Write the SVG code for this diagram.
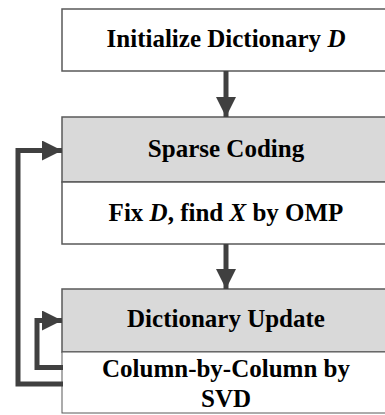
<svg xmlns="http://www.w3.org/2000/svg" width="385" height="415" viewBox="0 0 385 415">
<style>
.box{stroke:#595959;stroke-width:1.5}
.w{fill:#ffffff}
.g{fill:#d9d9d9}
.t{font-family:"Liberation Serif","Times New Roman",serif;font-weight:bold;font-size:25px;fill:#000;text-anchor:middle}
.i{font-style:italic}
.c{fill:none;stroke:#404040;stroke-width:5;stroke-linejoin:miter}
</style>
<defs>
<marker id="ah" viewBox="0 0 20 20" refX="20" refY="10" markerWidth="20" markerHeight="20" markerUnits="userSpaceOnUse" orient="auto">
<path d="M0,0 L20,10 L0,20 z" fill="#404040"/>
</marker>
</defs>
<rect width="385" height="415" fill="#ffffff"/>
<g id="init">
<rect class="box w" x="62" y="9" width="330" height="62"/>
<text class="t" x="226" y="47">Initialize Dictionary <tspan class="i">D</tspan></text>
</g>
<g id="sparse">
<rect class="box g" x="62" y="117" width="330" height="65"/>
<text class="t" x="226" y="157">Sparse Coding</text>
<rect class="box w" x="62" y="182" width="330" height="62"/>
<text class="t" x="226" y="221">Fix <tspan class="i">D</tspan>, find <tspan class="i">X</tspan> by OMP</text>
</g>
<g id="update">
<rect class="box g" x="62" y="289" width="330" height="63"/>
<text class="t" x="226" y="327">Dictionary Update</text>
<rect class="box w" x="62" y="352" width="330" height="61" style="stroke-width:1"/>
<text class="t" x="226" y="377">Column-by-Column by</text>
<text class="t" x="226" y="407">SVD</text>
</g>
<g id="connectors">
<path class="c" d="M226,71 V117" marker-end="url(#ah)"/>
<path class="c" d="M226,244 V289" marker-end="url(#ah)"/>
<path class="c" d="M63,384 H18 V150.5 H62" marker-end="url(#ah)"/>
<path class="c" d="M63,367.5 H37 V320.5 H62" marker-end="url(#ah)"/>
</g>
</svg>
